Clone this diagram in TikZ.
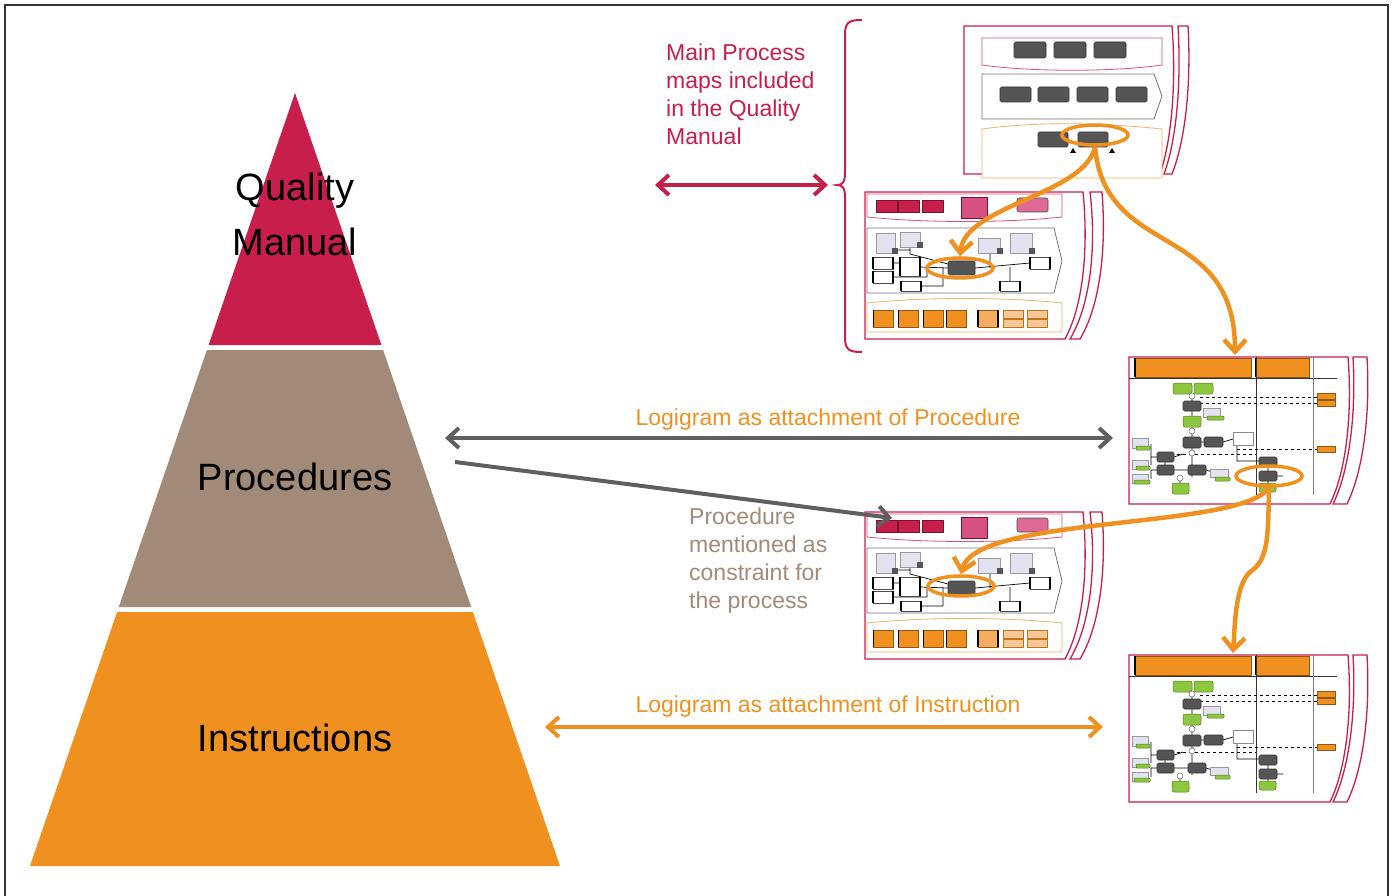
\documentclass[tikz,border=0pt]{standalone}
\usepackage{fontspec}
\setmainfont{Liberation Sans}
\usetikzlibrary{arrows.meta, positioning, shapes.geometric}

\definecolor{qmred}{RGB}{200,30,75}
\definecolor{procbrown}{RGB}{161,138,120}
\definecolor{instorange}{RGB}{240,144,30}
\definecolor{arrowgray}{RGB}{95,95,95}
\definecolor{bandpink}{RGB}{214,80,130}
\definecolor{boxgray}{RGB}{85,85,85}
\definecolor{docblue}{RGB}{226,226,240}
\definecolor{evgreen}{RGB}{141,198,63}
\definecolor{paleorange}{RGB}{246,200,150}
\definecolor{lightorange}{RGB}{246,172,95}

\begin{document}
\begin{tikzpicture}[
    x=1pt, y=-1pt,
    >={Straight Barb[length=11pt,width=20pt]},
    level text/.style={font=\fontsize{38}{55}\selectfont, align=center, inner sep=0pt},
    side text/.style={font=\fontsize{23}{28}\selectfont, align=left, inner sep=0pt},
    link/.style={line width=4pt},
    flow/.style={instorange, line width=4.5pt, ->, >={Straight Barb[length=12pt,width=22pt]}},
    hl/.style={ellipse, draw=instorange, line width=3.5pt, minimum width=66pt, minimum height=20pt, inner sep=0pt},
    sheet/.style={draw=qmred, line width=1.3pt, fill=white},
    redband/.style={draw=bandpink, line width=0.8pt, fill=white},
    chevron/.style={draw=black!55, line width=0.8pt, fill=white},
    orangeband/.style={draw=instorange!70, line width=0.8pt, fill=white},
    darkbox/.style={draw=black!80, fill=boxgray, line width=0.6pt, rounded corners=1.5pt},
    redbox/.style={draw=qmred!60!black, fill=qmred, line width=0.6pt},
    docbox/.style={draw=black!40, fill=docblue, line width=0.5pt},
    taskbox/.style={draw=black!70, fill=white, line width=0.5pt},
    orangebox/.style={draw=instorange!60!black, fill=instorange, line width=0.5pt},
    palebox/.style={draw=instorange!80!black, fill=paleorange, line width=0.5pt},
    evbox/.style={draw=evgreen!60!black, fill=evgreen, line width=0.5pt, rounded corners=2pt},
    gate/.style={draw=black!60, fill=white, line width=0.5pt},
    wire/.style={black, line width=0.7pt},
    msg/.style={black, line width=0.7pt, dashed},
    procmap/.pic={
        \draw[sheet] (225,0) -- (237,0) .. controls (241,50) and (237,110) .. (215,147) -- (205,147) .. controls (227,110) and (231,50) .. (225,0) -- cycle;
        \draw[sheet] (0,0) -- (218,0) .. controls (223,50) and (220,110) .. (200,147) -- (0,147) -- cycle;
        \draw[redband] (2,2) -- (197,2) -- (197,25) .. controls (140,31) and (60,31) .. (2,25) -- cycle;
        \foreach \x in {11,33,57} \draw[redbox] (\x,8) rectangle ++(21,12);
        \draw[redbox, fill=bandpink] (96,5) rectangle (122,26);
        \draw[redbox, fill=bandpink!85, draw=black!70, rounded corners=2pt] (152,6) rectangle (183,20);
        \draw[chevron] (2,36) -- (189,36) -- (197,69) -- (189,101) -- (2,101) -- cycle;
        \draw[wire] (28,71) -- (35,71) (55,75) -- (83,76) (28,85) -- (62,85) -- (62,76)
            (56,94) -- (78,94) -- (78,76) (110,76) -- (165,71) (145,89) -- (145,75)
            (30,58) -- (45,58) (45,55) -- (45,62) -- (83,72) (135,58) -- (125,62) -- (125,76);
        \foreach \a/\b/\c/\d in {11/41/30/61, 35/40/55/55, 113/46/135/61, 145/41/167/61} {
            \draw[docbox] (\a,\b) rectangle (\c,\d);
            \fill[boxgray] (\c-3,\d-5) rectangle ++(6,6);
        }
        \foreach \a/\b/\c/\d in {8/65/28/77, 8/79/28/91, 35/65/55/84, 36/89/56/99, 135/89/155/99, 165/65/185/77} {
            \draw[taskbox] (\a,\b) rectangle (\c,\d);
            \draw[line width=1.2pt] (\a,\b) -- (\a,\d) (\c,\b) -- (\c,\d);
        }
        \draw[darkbox] (83,69) rectangle (110,83);
        \draw[orangeband] (2,111) .. controls (60,105) and (140,105) .. (197,111) -- (197,140) -- (2,140) -- cycle;
        \foreach \x in {8,33,58,81} {
            \draw[orangebox] (\x,118) rectangle ++(20,17);
            \draw[line width=1pt] (\x,118) -- (\x,135);
        }
        \draw[orangebox, fill=lightorange] (113,118) rectangle ++(20,17);
        \draw[line width=1.2pt] (113,118) -- (113,135) (133,118) -- (133,135);
        \foreach \x in {138,162} \draw[palebox] (\x,118) rectangle ++(20,8) (\x,127) rectangle ++(20,8);
    },
    topmap/.pic={
        \draw[sheet] (214,0) -- (224,0) .. controls (227,50) and (223,110) .. (208,148) -- (200,148) .. controls (214,110) and (217,50) .. (214,0) -- cycle;
        \draw[sheet] (0,0) -- (208,0) .. controls (212,50) and (209,110) .. (196,148) -- (0,148) -- cycle;
        \draw[redband] (18,12) -- (198,12) -- (198,39) .. controls (150,46) and (66,46) .. (18,39) -- cycle;
        \foreach \x in {50,90,130} \draw[darkbox] (\x,16) rectangle ++(32,16);
        \draw[chevron] (18,48) -- (190,48) -- (198,70) -- (190,93) -- (18,93) -- cycle;
        \foreach \x in {36,74,113,152} \draw[darkbox] (\x,61) rectangle ++(31,15);
        \draw[orangeband] (18,103) .. controls (70,96) and (130,96) .. (198,103) -- (198,152) -- (18,152) -- cycle;
        \foreach \x in {74,114} \draw[darkbox] (\x,106) rectangle ++(30,15);
        \foreach \x in {109,148} \fill (\x-3,127) -- (\x+3,127) -- (\x,122) -- cycle;
    },
    logigram/.pic={
        \draw[sheet] (224,0) -- (238,0) .. controls (241,50) and (236,110) .. (218,147) -- (204,147) .. controls (222,110) and (227,50) .. (224,0) -- cycle;
        \draw[sheet] (0,0) -- (219,0) .. controls (223,50) and (219,110) .. (201,147) -- (0,147) -- cycle;
        \draw[orangebox] (6,1) rectangle (122,20);
        \draw[orangebox] (127,1) rectangle (180,20);
        \draw[line width=1.2pt] (6,1) -- (6,20) (127,1) -- (127,20);
        \draw[black!80, line width=0.9pt] (0,21) -- (208,21);
        \draw[black!80, line width=0.9pt] (127,0) -- (127,138);
        \draw[black!50, line width=0.9pt] (184,0) -- (184,138);
        \draw[msg] (71,40) -- (188,40) (71,46) -- (188,46) (108,92) -- (188,92) (48,97) -- (127,97);
        \draw[wire] (63,37) -- (63,44) (63,54) -- (63,59) (63,70) -- (63,80) (72,85) -- (75,85)
            (94,85) -- (104,82) (63,91) -- (63,120) (45,100) -- (54,97) (28,100) -- (22,100) -- (22,87)
            (22,100) -- (22,108) (45,113) -- (59,113) (36,105) -- (36,108) (28,113) -- (22,113) -- (22,122)
            (51,123) -- (51,126) (77,113) -- (86,116) (108,88) -- (108,104) -- (130,104) (139,110) -- (139,114)
            (139,124) -- (139,126) (148,119) -- (154,119);
        \foreach \a/\b/\c/\d in {3/81/19/91, 3/103/19/112, 3/117/19/126, 74/51/91/60, 81/112/99/120} \draw[docbox] (\a,\b) rectangle (\c,\d);
        \draw[taskbox, draw=black!45] (104,75) rectangle (124,88);
        \foreach \a/\b/\c/\d in {7/89/21/93, 7/109/21/113, 5/123/21/127, 78/59/95/63, 86/120/101/124} \draw[evbox, rounded corners=1pt] (\a,\b) rectangle (\c,\d);
        \foreach \a/\b/\c/\d in {44/26/63/37, 65/26/84/37, 54/59/72/70, 43/126/60/137, 130/126/147/135} \draw[evbox] (\a,\b) rectangle (\c,\d);
        \foreach \a/\b/\c/\d in {54/44/72/54, 54/80/72/91, 75/80/94/90, 28/95/45/105, 28/108/45/118, 59/108/77/118, 130/100/148/110, 130/114/148/124} \draw[darkbox] (\a,\b) rectangle (\c,\d);
        \foreach \p in {(63,39), (63,74), (63,96), (51,121)} \draw[gate] \p circle (3);
        \foreach \b in {36,43,89} \draw[orangebox] (188,\b) rectangle ++(18,6);
    }
]
\useasboundingbox (0,0) rectangle (1393,896);
\draw[black!80, line width=1.5pt] (5,900) -- (5,5) -- (1388,5) -- (1388,900);

\fill[qmred] (295,93) -- (381.4,345) -- (208.6,345) -- cycle;
\fill[procbrown] (206.9,350) -- (383.1,350) -- (471.2,607) -- (118.8,607) -- cycle;
\fill[instorange] (117.1,612) -- (472.9,612) -- (560,866) -- (30,866) -- cycle;
\node[level text] (qmLbl) at (295,214) {Quality\\Manual};
\node[level text, anchor=base] (procLvl) at (295,490) {Procedures};
\node[level text, anchor=base] (instLvl) at (295,751) {Instructions};

\pic (topMap) at (964,26) {topmap};
\pic (qmMap) at (865,192) {procmap};
\pic (procMap) at (865,512) {procmap};
\pic (logiA) at (1129,357) {logigram};
\pic (logiB) at (1129,655) {logigram};

\node[side text, anchor=west, text=qmred] (mainTxt) at (666,94) {Main Process\\maps included\\in the Quality\\Manual};
\node[side text, anchor=west, text=procbrown] (constrTxt) at (689,561) {Procedure\\mentioned as\\constraint for\\the process};
\node[side text, anchor=base, text=instorange] (procLink) at (828,425) {Logigram as attachment of Procedure};
\node[side text, anchor=base, text=instorange] (instLink) at (828,712) {Logigram as attachment of Instruction};

\draw[qmred, line width=2pt] (862,20) .. controls (849,20) and (845,22) .. (845,35) -- (845,172)
    .. controls (845,182) and (843,185) .. (837,185) .. controls (843,185) and (845,188) .. (845,198)
    -- (845,337) .. controls (845,350) and (849,352) .. (862,352);

\coordinate (qmL) at (655,185);
\coordinate (qmR) at (828,185);
\coordinate (procA) at (445,438);
\coordinate (logiAleft) at (1113,438);
\coordinate (procB) at (455,462);
\coordinate (procMapTop) at (892,518);
\coordinate (instA) at (545,727);
\coordinate (logiBleft) at (1103,727);
\coordinate (logiAtop) at (1235,355);
\coordinate (logiBtop) at (1233,653);

\draw[link, qmred, <->] (qmL) -- (qmR);
\draw[link, arrowgray, <->] (procA) -- (logiAleft);
\draw[link, arrowgray, ->] (procB) -- (procMapTop);
\draw[link, instorange, <->] (instA) -- (logiBleft);

\node[hl] (hlTop) at (1095,135) {};
\node[hl] (hlMap) at (960,268) {};
\node[hl] (hlLogi) at (1269,476) {};
\node[hl] (hlMid) at (961,586) {};

\draw[flow] (hlTop.south) .. controls (1085,195) and (965,205) .. (hlMap.north);
\draw[flow] (hlTop.south) .. controls (1105,260) and (1235,220) .. (logiAtop);
\draw[flow] (hlLogi.south) .. controls (1240,530) and (975,515) .. (hlMid.north);
\draw[flow] (hlLogi.south) .. controls (1268,540) and (1268,560) .. (1250,572) .. controls (1236,585) and (1235,620) .. (logiBtop);
\end{tikzpicture}
\end{document}
